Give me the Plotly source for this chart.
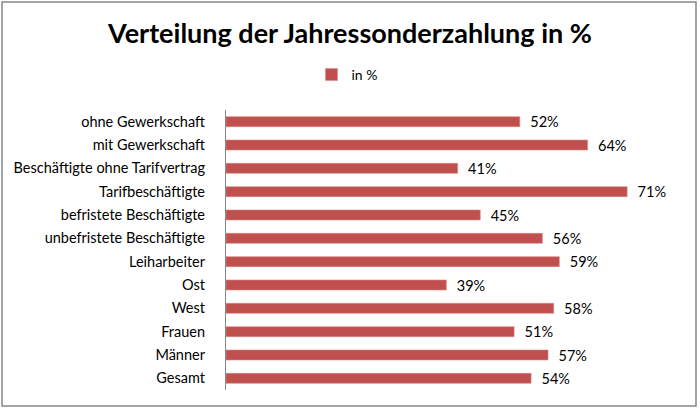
import plotly.graph_objects as go

categories = ["ohne Gewerkschaft", "mit Gewerkschaft", "Beschäftigte ohne Tarifvertrag",
              "Tarifbeschäftigte", "befristete Beschäftigte", "unbefristete Beschäftigte",
              "Leiharbeiter", "Ost", "West", "Frauen", "Männer", "Gesamt"]
values = [52, 64, 41, 71, 45, 56, 59, 39, 58, 51, 57, 54]
series_name = "in %"
title_text = "Verteilung der Jahressonderzahlung in %"

W, H = 700, 410
ml, mr, mt, mb = 226, 22, 110, 20
pw, ph = W - ml - mr, H - mt - mb

def px_to_paper_x(px):
    return (px - ml) / pw

def px_to_paper_y(py):
    return (H - mb - py) / ph

FONT = "Lato, Open Sans, sans-serif"

fig = go.Figure()
fig.add_trace(go.Bar(
    y=categories,
    x=values,
    orientation="h",
    name=series_name,
    marker=dict(color="#C0504D", line=dict(color="#D88A88", width=0.6)),
    width=0.43,
    text=[f"  {v}%" for v in values],
    textposition="outside",
    constraintext="none",
    cliponaxis=False,
    textfont=dict(family=FONT, size=14.5, color="#000000"),
    hoverinfo="skip",
))

fig.update_layout(
    width=W, height=H,
    margin=dict(l=ml, r=mr, t=mt, b=mb, autoexpand=False),
    paper_bgcolor="white",
    plot_bgcolor="white",
    title=dict(text=f"<b>{title_text}</b>", x=0.5, xref="container", xanchor="center",
               y=1 - 34 / H, yref="container", yanchor="middle",
               font=dict(family=FONT, size=27, color="#000000")),
    showlegend=True,
    legend=dict(orientation="h", x=(345 + 2) / W, xref="container", xanchor="center",
                y=1 - 75 / H, yref="container", yanchor="middle",
                font=dict(family=FONT, size=14, color="#000000"),
                itemwidth=30, bgcolor="rgba(0,0,0,0)"),
    xaxis=dict(range=[0, 80], showgrid=False, zeroline=False, showticklabels=False,
               showline=False, ticks="", automargin=False),
    yaxis=dict(autorange="reversed", showgrid=False, zeroline=False,
               showline=True, linecolor="#868686", linewidth=1.2,
               ticks="outside", ticklen=17, tickcolor="rgba(0,0,0,0)",
               automargin=False,
               tickfont=dict(family=FONT, size=14.5, color="#000000")),
    bargap=0.57,
    shapes=[dict(type="rect", xref="paper", yref="paper",
                 x0=px_to_paper_x(2), x1=px_to_paper_x(696),
                 y0=px_to_paper_y(406), y1=px_to_paper_y(2),
                 line=dict(color="#868686", width=1.5), fillcolor="rgba(0,0,0,0)",
                 layer="below")],
)

fig.write_html("out.html", config={"displayModeBar": False},
               post_script="document.body.style.margin='0px';")
